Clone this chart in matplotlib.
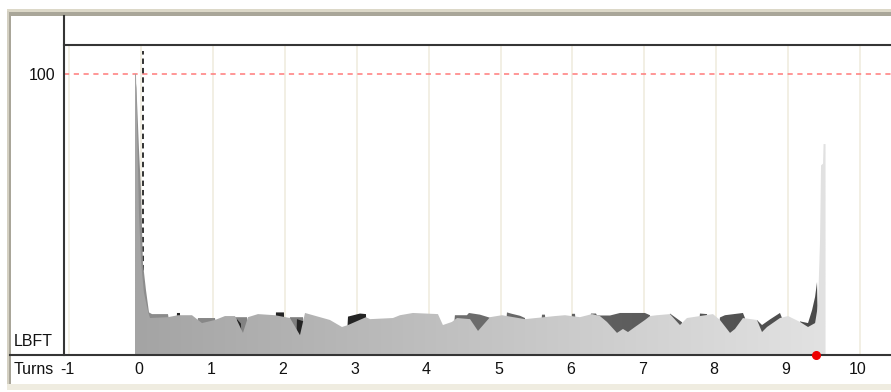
import numpy as np
import matplotlib
matplotlib.use("Agg")
import matplotlib.pyplot as plt
from matplotlib.colors import LinearSegmentedColormap
from matplotlib.lines import Line2D
from matplotlib.patches import Rectangle

# LBFT per turn: light trace in front, mid and dark traces behind it
light_turns = [-0.085, -0.085, -0.071, -0.064, -0.050, -0.029, 0.000, 0.040, 0.100, 0.124,
               0.374, 0.513, 0.708, 0.847, 1.028, 1.167, 1.306, 1.417, 1.487, 1.626,
               1.862, 2.071, 2.210, 2.280, 2.627, 2.794, 2.878, 3.128, 3.184, 3.503,
               3.601, 3.781, 4.129, 4.198, 4.323, 4.394, 4.575, 4.686, 4.853, 5.020,
               5.339, 5.757, 5.896, 6.104, 6.271, 6.382, 6.480, 6.619, 6.702, 6.772,
               6.869, 7.008, 7.078, 7.175, 7.356, 7.495, 7.592, 7.773, 7.954, 8.051,
               8.191, 8.260, 8.371, 8.566, 8.636, 8.706, 8.886, 8.998, 9.165, 9.276,
               9.374, 9.415, 9.443, 9.457, 9.485, 9.492, 9.520, 9.520]
light_lbft = [0, 100, 100, 91, 75, 50, 33, 22, 15, 13.0,
              13.3, 14.0, 14.0, 11.2, 12.3, 13.7, 13.7, 7.7, 13.3, 14.4,
              14.0, 13.0, 6.9, 14.8, 12.3, 9.8, 10.5, 13.3, 12.6, 13.0,
              14.0, 14.8, 14.4, 10.5, 11.6, 13.0, 12.6, 8.4, 13.3, 14.0,
              12.6, 13.7, 14.0, 13.3, 14.4, 13.7, 11.6, 7.7, 9.1, 8.0,
              9.8, 12.3, 13.7, 14.0, 14.4, 10.5, 13.0, 13.7, 14.4, 12.3,
              7.7, 9.1, 13.0, 12.3, 8.0, 9.8, 13.0, 13.7, 11.6, 9.8,
              11.2, 17.6, 40.7, 67.4, 68.0, 75.0, 75.0, 0]

mid_turns = [-0.085, -0.085, -0.064, -0.029, -0.001, 0.026, 0.068, 0.110, 0.152, 0.374,
             0.430, 0.764, 0.791, 1.028, 1.070, 1.278, 1.306, 1.473, 1.501, 2.043,
             2.071, 2.252, 2.280, 4.337, 4.365, 4.532, 4.560, 4.713, 4.866, 4.894,
             5.061, 5.089, 5.158, 5.270, 5.339, 5.367, 5.548, 5.576, 5.617, 5.645,
             5.965, 5.993, 6.035, 6.063, 6.229, 6.257, 6.327, 6.341, 6.522, 6.661,
             7.008, 7.078, 7.106, 7.328, 7.356, 7.523, 7.551, 7.746, 7.773, 7.871,
             7.899, 8.023, 8.051, 8.121, 8.371, 8.399, 8.427, 8.538, 8.566, 8.636,
             8.747, 8.886, 8.914, 8.942, 9.137, 9.165, 9.276, 9.332, 9.374, 9.401,
             9.415, 9.443]
mid_lbft = [0, 100, 95, 73, 58.5, 32.6, 23, 15, 14.4, 14.4,
            6, 6, 13.0, 13.0, 6, 6, 13.3, 13.3, 6, 6,
            13.3, 13.3, 6, 6, 14.0, 14.0, 14.8, 14.2, 13.0, 6,
            6, 15.0, 14.5, 13.8, 13.0, 6, 6, 14.2, 14.2, 6,
            6, 14.5, 14.5, 6, 6, 14.6, 14.6, 13.9, 13.9, 14.8,
            14.8, 14.0, 6, 6, 14.6, 11.5, 6, 6, 14.6, 14.4,
            6, 6, 13.2, 14.0, 14.8, 13.0, 6, 6, 12.3, 10.5,
            12.5, 14.8, 13.0, 6, 6, 11.8, 11.2, 15.8, 20.5, 25.8,
            6, 0]

dark_turns = [0.485, 0.499, 0.541, 0.555,
              1.306, 1.334, 1.389, 1.403,
              1.862, 1.876, 1.987, 2.001,
              2.154, 2.168, 2.294, 2.308,
              2.850, 2.878, 3.045, 3.128, 3.142]
dark_lbft = [0, 14.8, 14.8, 0,
             0, 12.6, 11.0, 0,
             0, 15.0, 15.0, 0,
             0, 12.6, 11.5, 0,
             0, 13.5, 14.6, 14.4, 0]

tick_turns = list(range(-1, 11))
limit_lbft = 100
cursor_turn = 0.02
dot_turn = 9.39

W, H = 891, 392


def fx(px):
    return px / W


def fy(py):
    return 1 - py / H


def gradient_area(ax, t, v, c0, c1, z):
    # fill the area under the trace with a left-to-right grey ramp
    poly = ax.fill_between(t, v, 0, facecolor="none", edgecolor="none", zorder=z)
    cmap = LinearSegmentedColormap.from_list("ramp", [c0, c1])
    ramp = np.linspace(0, 1, 256).reshape(1, -1)
    im = ax.imshow(ramp, cmap=cmap, aspect="auto", interpolation="bilinear",
                   extent=[light_turns[0], light_turns[-1], 0, 110], zorder=z)
    im.set_clip_path(poly.get_paths()[0], transform=ax.transData)


font = dict(family="Liberation Sans", fontsize=11.5, color="#111111")

fig = plt.figure(figsize=(W / 100, H / 100), dpi=100)
fig.patch.set_facecolor("white")

ax = fig.add_axes([fx(64), fy(354.5), fx(891) - fx(64), (354.5 - 45) / H])
ax.set_facecolor("white")

for t in tick_turns:
    ax.axvline(t, color="#efebdd", lw=1.1, zorder=0.5)
ax.axhline(limit_lbft, color="#ff7b7b", lw=1.1, ls=(0, (3.4, 3.0)), zorder=1)
ax.plot([cursor_turn, cursor_turn], [0, 108.2], color="#222222", lw=1.3,
        ls=(0, (3, 2.2)), zorder=1)

gradient_area(ax, mid_turns, mid_lbft, "#8e8e8e", "#4a4a4a", 2)
ax.fill_between(dark_turns, dark_lbft, 0, facecolor="#242424", edgecolor="none", zorder=3)
gradient_area(ax, light_turns, light_lbft, "#a4a4a4", "#e2e2e2", 4)

ax.set_xlim(-1.072, 10.430)
ax.set_ylim(0, 110.3)
ax.set_xticks([])
ax.set_yticks([limit_lbft])
ax.set_yticklabels([str(limit_lbft)], **font)
ax.tick_params(axis="y", length=0, pad=6)
for s in ax.spines.values():
    s.set_visible(False)

for t in tick_turns:
    ax.text(t - 0.03, -0.05, str(t), transform=ax.get_xaxis_transform(),
            ha="center", va="center", clip_on=False, **font)

fig.text(fx(14), fy(370), "Turns", ha="left", va="center", **font)
fig.text(fx(14), fy(341), "LBFT", ha="left", va="center", **font)

# window frame and chart rules
fig.add_artist(Rectangle((fx(7), fy(12)), 1, 3 / H, transform=fig.transFigure,
                         facecolor="#dcd8c8", edgecolor="none"))
fig.add_artist(Rectangle((fx(7), fy(15.5)), 1, 3.5 / H, transform=fig.transFigure,
                         facecolor="#a9a699", edgecolor="none"))
fig.add_artist(Rectangle((fx(7), fy(386)), 2 / W, 375 / H, transform=fig.transFigure,
                         facecolor="#d4d0c2", edgecolor="none"))
fig.add_artist(Rectangle((fx(9), fy(386)), 1.5 / W, 371 / H, transform=fig.transFigure,
                         facecolor="#a9a699", edgecolor="none"))
fig.add_artist(Rectangle((fx(7), fy(390)), 1, 6 / H, transform=fig.transFigure,
                         facecolor="#efece0", edgecolor="none"))

rule = dict(color="#353535", lw=1.5, transform=fig.transFigure)
fig.add_artist(Line2D([fx(64), fx(64)], [fy(15.5), fy(355)], **rule))
fig.add_artist(Line2D([fx(64), 1], [fy(45), fy(45)], **rule))
fig.add_artist(Line2D([fx(10), 1], [fy(355), fy(355)], **rule))

fig.add_artist(Line2D([dot_turn], [0], transform=ax.transData, marker="o", markersize=5.5,
                      color="#ee0000", markeredgecolor="#ee0000", ls="none", zorder=5))

fig.savefig("out.png", dpi=100)
